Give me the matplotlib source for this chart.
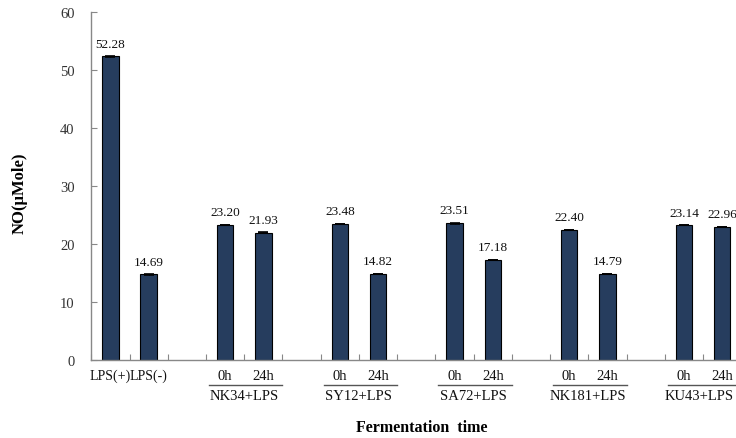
import numpy as np
import matplotlib.pyplot as plt
from matplotlib.transforms import blended_transform_factory

plt.rcParams['font.family'] = ['Liberation Serif', 'DejaVu Serif']

# bar data (slot index along x, value, error)
slots = [0, 1, 3, 4, 6, 7, 9, 10, 12, 13, 15, 16]
bar_labels = ['LPS(+)', 'LPS(-)', '0h', '24h', '0h', '24h', '0h', '24h',
              '0h', '24h', '0h', '24h']
values = [52.28, 14.69, 23.20, 21.93, 23.48, 14.82, 23.51, 17.18,
          22.40, 14.79, 23.14, 22.96]
errors = [0.15, 0.12, 0.0, 0.12, 0.0, 0.0, 0.12, 0.0, 0.0, 0.0, 0.0, 0.0]
groups = ['NK34+LPS', 'SY12+LPS', 'SA72+LPS', 'NK181+LPS', 'KU43+LPS']
group_start = [3, 6, 9, 12, 15]

fig = plt.figure(figsize=(7.36, 4.39), dpi=100)
ax = fig.add_axes([91.3 / 736, (439 - 360.7) / 439, 650 / 736, 348 / 439])

x = np.array(slots) + 0.5
ax.bar(x, values, width=0.43, color='#263d5e', edgecolor='black', linewidth=0.8,
       yerr=errors, error_kw=dict(ecolor='black', capsize=3.5, elinewidth=0.8, capthick=1.2))

for xi, v in zip(x, values):
    ax.annotate(f'{v:.2f}', (xi, v), xytext=(0, 5), textcoords='offset points',
                ha='center', va='bottom', fontsize=9.5, color='#111111')

ax.set_xlim(0, 17)
ax.set_ylim(0, 60)
ax.set_yticks(range(0, 61, 10))
ax.set_xticks(range(0, 18))
ax.set_xticklabels([])
ax.tick_params(axis='both', direction='in', length=4, color='#888888', width=0.8)
ax.tick_params(axis='y', labelsize=10.5, labelcolor='#333333', pad=12)
for s in ['top', 'right']:
    ax.spines[s].set_visible(False)
for s in ['left', 'bottom']:
    ax.spines[s].set_color('#888888')
    ax.spines[s].set_linewidth(1.0)

trans = blended_transform_factory(ax.transData, ax.transAxes)
for xi, lab in zip(x, bar_labels):
    size = 10 if lab.startswith('LPS') else 10.5
    ax.text(xi, -0.045, lab, transform=trans, ha='center', va='center',
            fontsize=size, color='#111111')

for g, s0 in zip(groups, group_start):
    ax.plot([s0 + 0.08, s0 + 2.0], [-0.072, -0.072], transform=trans,
            color='#555555', lw=1.0, clip_on=False)
    cx = min(s0 + 1.0, 15.9)
    ax.text(cx, -0.102, g, transform=trans, ha='center', va='center',
            fontsize=10.5, color='#111111')

fig.text(422 / 736, 1 - 428.5 / 439, 'Fermentation  time', ha='center', va='center',
         fontsize=11.5, fontweight='bold')
fig.text(20 / 736, 1 - 193 / 439, 'NO(μMole)', ha='center', va='center',
         rotation=90, fontsize=12, fontweight='bold')

fig.savefig('out.png', dpi=100)
